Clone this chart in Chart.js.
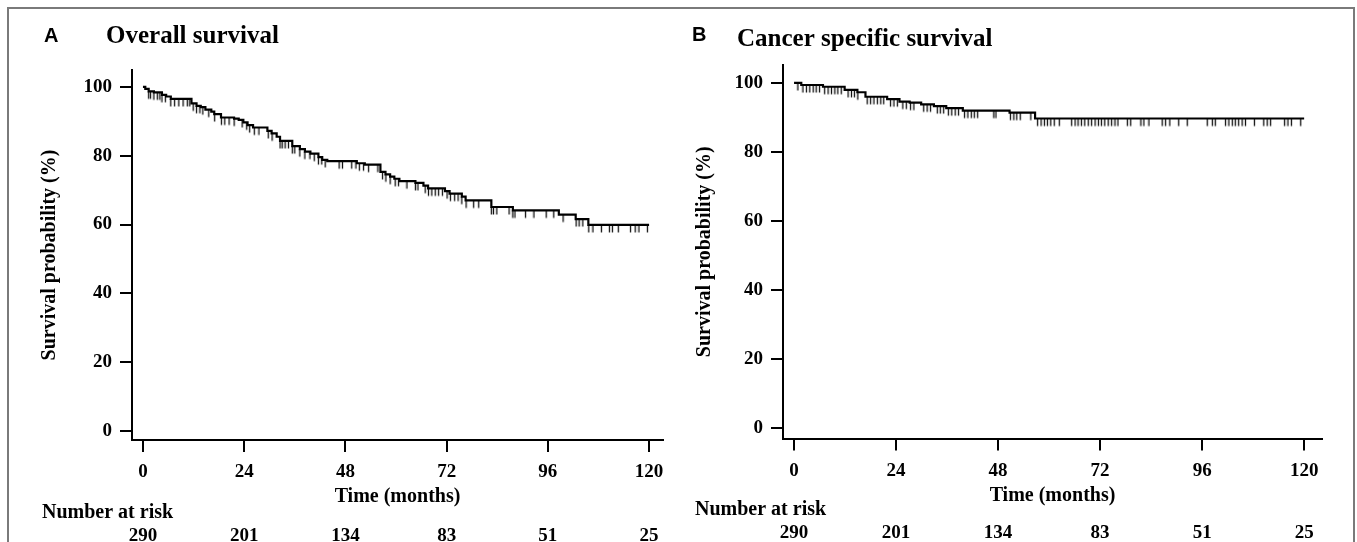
<!DOCTYPE html>
<html><head><meta charset="utf-8">
<script src="https://cdn.jsdelivr.net/npm/chart.js@4.4.1/dist/chart.umd.min.js"></script>
<style>
html,body{margin:0;padding:0;background:#fff;}
body{width:1357px;height:542px;position:relative;overflow:hidden;}
#frame{position:absolute;left:7px;top:7px;width:1348px;height:620px;border:2px solid #7a7a7a;box-sizing:border-box;}
.pane{position:absolute;top:0;height:542px;}
#pa{left:0;width:678px}
#pb{left:678px;width:679px}
canvas{display:block}
</style></head><body>
<div id="frame"></div>
<div class="pane" id="pa"><canvas id="ca" width="678" height="542"></canvas></div>
<div class="pane" id="pb"><canvas id="cb" width="679" height="542"></canvas></div>
<script>
// ---- data ----
const xTicks = [0, 24, 48, 72, 96, 120];
const yTicks = [0, 20, 40, 60, 80, 100];
const riskTimes = [0, 24, 48, 72, 96, 120];
const riskCounts = [290, 201, 134, 83, 51, 25];

// Overall survival: step times (months) and survival (%)
const osTime = [0, 0.55, 1.35, 2.6, 4.5, 5.5, 6.6, 11.5, 12.7, 13.7, 14.8, 16.2, 16.9, 18.5, 21.6, 22.7, 23.8, 24.8, 26.1, 29.5, 30.5, 31.7, 32.5, 35.4, 37.2, 38.4, 39.7, 41.6, 42.5, 43.7, 50.7, 52.6, 56.3, 57.5, 58.6, 59.6, 60.8, 64.6, 66.5, 67.6, 71.6, 72.7, 75.6, 76.5, 82.6, 87.7, 98.6, 102.6, 105.6, 120];
const osSurv = [100, 99.4, 98.7, 98.4, 97.7, 97.2, 96.5, 95.2, 94.5, 94.1, 93.4, 92.8, 92.1, 91.1, 90.8, 90.4, 89.7, 88.9, 88.2, 87.2, 86.5, 85.5, 84.3, 82.8, 81.9, 81.2, 80.6, 79.6, 78.8, 78.4, 77.8, 77.4, 75.3, 74.6, 73.9, 73.3, 72.6, 72.1, 71.3, 70.5, 69.7, 69.0, 68.1, 67.0, 65.1, 64.1, 62.9, 61.6, 59.9, 59.9];
const osCensor = [1.35, 1.8, 2.6, 3.4, 4.0, 4.5, 5.3, 6.6, 7.5, 8.5, 9.5, 10.5, 11.1, 11.9, 12.7, 13.5, 14.2, 15.6, 17.0, 18.6, 19.4, 20.4, 21.6, 23.5, 24.6, 25.3, 26.4, 27.5, 29.7, 30.6, 32.5, 33.0, 33.7, 34.5, 35.4, 36.0, 37.2, 38.4, 39.6, 40.6, 41.6, 42.4, 43.2, 46.5, 47.3, 49.5, 50.5, 51.3, 52.3, 53.5, 55.7, 56.8, 57.6, 58.6, 59.8, 60.6, 62.6, 64.6, 65.2, 66.9, 67.7, 68.5, 69.3, 70.1, 71.0, 72.1, 72.9, 73.9, 74.7, 75.6, 76.6, 78.4, 79.6, 82.6, 83.1, 83.9, 86.8, 87.7, 88.2, 90.7, 92.7, 95.6, 97.4, 99.6, 102.7, 103.4, 104.3, 105.7, 106.7, 108.7, 110.6, 111.3, 112.7, 115.6, 116.7, 117.6, 119.6];

// Cancer specific survival
const cssTime = [0, 1.7, 6.8, 11.9, 14.9, 16.8, 21.9, 24.8, 27.2, 29.9, 32.9, 35.8, 39.7, 50.7, 56.7, 120];
const cssSurv = [100, 99.4, 98.9, 98.0, 97.3, 96.0, 95.3, 94.6, 94.3, 93.8, 93.3, 92.7, 92.0, 91.4, 89.7, 89.7];
const cssCensor = [0.9, 2.1, 2.9, 3.7, 4.5, 5.2, 6.0, 7.2, 8.0, 8.8, 9.6, 10.3, 11.1, 12.7, 13.5, 14.2, 15.0, 17.2, 18.0, 18.8, 19.6, 20.4, 21.1, 22.7, 23.5, 24.3, 25.6, 26.4, 27.4, 28.2, 30.5, 31.3, 32.1, 33.7, 34.4, 35.2, 36.3, 37.1, 37.9, 38.7, 40.1, 40.9, 41.7, 42.4, 43.2, 47.0, 47.5, 50.9, 51.7, 52.4, 53.2, 55.7, 57.3, 58.1, 58.9, 59.6, 60.4, 61.2, 62.4, 65.3, 66.1, 66.8, 67.6, 68.4, 69.2, 70.0, 70.8, 71.6, 72.3, 73.1, 73.9, 74.7, 75.5, 76.2, 78.4, 79.2, 81.6, 82.3, 83.5, 86.6, 87.4, 88.4, 90.5, 92.5, 97.2, 98.4, 99.1, 101.5, 102.3, 103.1, 103.8, 104.6, 105.4, 106.2, 108.3, 110.5, 111.3, 112.1, 115.4, 116.2, 117.0, 119.2];

// ---- helpers ----
function stepPoints(times, surv) { return times.map((t, i) => ({x: t, y: surv[i]})); }
function levelAt(times, surv, t) { let v = surv[0]; for (let i = 0; i < times.length; i++) { if (times[i] <= t) v = surv[i]; } return v; }
function censorPoints(ct, times, surv) { return ct.map(t => ({x: t, y: levelAt(times, surv, t)})); }

function censorImg() {
  const c = document.createElement('canvas'); c.width = 3; c.height = 18;
  const g = c.getContext('2d'); g.strokeStyle = '#111'; g.lineWidth = 1.3;
  g.beginPath(); g.moveTo(1.5, 9); g.lineTo(1.5, 16.5); g.stroke();
  return c;
}
const cImg = censorImg();
const serif = '"Liberation Serif", "Times New Roman", serif';
const tickFont = {family: serif, size: 19, weight: 'bold'};
const titleFont = {family: serif, size: 20, weight: 'bold'};

const textPlugin = {
  id: 'txt',
  afterDraw(chart, args, o) {
    const ctx = chart.ctx, xs = chart.scales.x;
    ctx.save(); ctx.fillStyle = '#000'; ctx.textBaseline = 'alphabetic'; ctx.textAlign = 'left';
    ctx.font = 'bold 20px "Liberation Sans", Arial, sans-serif';
    ctx.fillText(o.letter, o.letterX, o.letterY);
    ctx.font = 'bold 25px ' + serif;
    ctx.fillText(o.title, o.titleX, o.titleY);
    ctx.font = 'bold 20px ' + serif;
    ctx.fillText('Number at risk', o.nrX, o.nrY);
    ctx.font = 'bold 19px ' + serif;
    ctx.textAlign = 'center';
    riskTimes.forEach((t, i) => ctx.fillText(String(riskCounts[i]), xs.getPixelForValue(t), o.numY));
    ctx.restore();
  }
};

function makeChart(id, times, surv, cens, c) {
  return new Chart(document.getElementById(id), {
    type: 'scatter',
    data: { datasets: [
      { data: stepPoints(times, surv), showLine: true, stepped: true, borderColor: '#000', borderWidth: 2.2, pointRadius: 0, order: 0 },
      { data: censorPoints(cens, times, surv), showLine: false, pointStyle: cImg, pointRadius: 3, order: 1 }
    ]},
    options: {
      responsive: false, animation: false, devicePixelRatio: 1,
      layout: { padding: { left: 0, right: c.padRight, top: c.top, bottom: 0 } },
      plugins: { legend: { display: false }, tooltip: { enabled: false }, txt: c.txt },
      scales: {
        x: {
          type: 'linear', min: c.xmin, max: c.xmax,
          afterBuildTicks: s => { s.ticks = xTicks.map(v => ({value: v})); },
          afterFit: s => { s.height = c.xh; },
          grid: { display: true, drawOnChartArea: false, drawTicks: true, tickLength: 12, color: '#000', lineWidth: 2 },
          border: { display: true, color: '#000', width: 2 },
          ticks: { font: tickFont, color: '#000', padding: 9, maxRotation: 0, autoSkip: false },
          title: { display: true, text: 'Time (months)', font: titleFont, color: '#000', padding: { top: 0, bottom: c.xtp } }
        },
        y: {
          type: 'linear', min: c.ymin, max: c.ymax,
          afterBuildTicks: s => { s.ticks = yTicks.map(v => ({value: v})); },
          afterFit: s => { s.width = c.yw; },
          grid: { display: true, drawOnChartArea: false, drawTicks: true, tickLength: 12, color: '#000', lineWidth: 2 },
          border: { display: true, color: '#000', width: 2 },
          ticks: { font: tickFont, color: '#000', padding: 8, autoSkip: false },
          title: { display: true, text: 'Survival probability (%)', font: titleFont, color: '#000', padding: { top: c.ytp, bottom: 0 } }
        }
      }
    },
    plugins: [textPlugin]
  });
}

makeChart('ca', osTime, osSurv, osCensor, {
  padRight: 15, top: 70, xh: 102, yw: 132, xmin: -2.6, xmax: 123.3, ymin: -2.6, ymax: 104.9, xtp: 33, ytp: 38,
  txt: { letter: 'A', letterX: 44, letterY: 42, title: 'Overall survival', titleX: 106, titleY: 43, nrX: 42, nrY: 518, numY: 541 }
});
makeChart('cb', cssTime, cssSurv, cssCensor, {
  padRight: 35, top: 65, xh: 103.5, yw: 105, xmin: -2.6, xmax: 124.2, ymin: -3.0, ymax: 105.2, xtp: 34, ytp: 15,
  txt: { letter: 'B', letterX: 14, letterY: 41, title: 'Cancer specific survival', titleX: 59, titleY: 46, nrX: 17, nrY: 515, numY: 538 }
});
</script>
</body></html>
